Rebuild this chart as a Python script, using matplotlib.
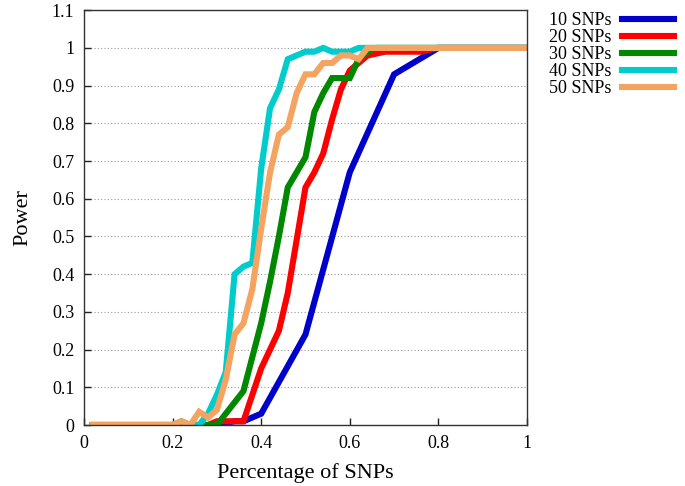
import matplotlib
matplotlib.use("Agg")
import matplotlib.pyplot as plt
from matplotlib.ticker import FormatStrFormatter

plt.rcParams["font.family"] = ["Liberation Serif", "DejaVu Serif"]

# vertices (fraction of SNPs, power)
snp10_x = [0.02, 0.30, 0.34, 0.36, 0.40, 0.50, 0.60, 0.70, 0.80, 1.00]
snp10_y = [0.00, 0.00, 0.01, 0.01, 0.03, 0.24, 0.67, 0.93, 1.00, 1.00]

snp20_x = [0.02, 0.28, 0.30, 0.34, 0.36, 0.38, 0.40, 0.42, 0.44, 0.46, 0.48, 0.50,
           0.52, 0.54, 0.56, 0.58, 0.60, 0.62, 0.64, 0.68, 0.76, 0.80, 1.00]
snp20_y = [0.00, 0.00, 0.01, 0.01, 0.01, 0.08, 0.15, 0.20, 0.25, 0.35, 0.49, 0.63,
           0.67, 0.72, 0.81, 0.89, 0.94, 0.96, 0.98, 0.99, 0.99, 1.00, 1.00]

snp30_x = [0.02, 0.28, 0.30, 0.32, 0.34, 0.36, 0.38, 0.40, 0.42, 0.44, 0.46, 0.48,
           0.50, 0.52, 0.54, 0.56, 0.58, 0.60, 0.62, 0.64, 0.66, 1.00]
snp30_y = [0.00, 0.00, 0.00, 0.03, 0.06, 0.09, 0.18, 0.27, 0.38, 0.50, 0.63, 0.67,
           0.71, 0.83, 0.88, 0.92, 0.92, 0.92, 0.97, 0.99, 1.00, 1.00]

snp40_x = [0.02, 0.20, 0.22, 0.24, 0.26, 0.28, 0.30, 0.32, 0.34, 0.36, 0.38, 0.40,
           0.42, 0.44, 0.46, 0.48, 0.50, 0.52, 0.54, 0.56, 0.58, 0.60, 0.62, 1.00]
snp40_y = [0.00, 0.00, 0.01, 0.00, 0.00, 0.03, 0.08, 0.14, 0.40, 0.42, 0.43, 0.68,
           0.84, 0.89, 0.97, 0.98, 0.99, 0.99, 1.00, 0.99, 0.99, 0.99, 1.00, 1.00]

snp50_x = [0.02, 0.20, 0.22, 0.24, 0.26, 0.28, 0.30, 0.32, 0.34, 0.36, 0.38, 0.40,
           0.42, 0.44, 0.46, 0.48, 0.50, 0.52, 0.54, 0.56, 0.58, 0.60, 0.62, 0.64, 1.00]
snp50_y = [0.00, 0.00, 0.01, 0.00, 0.035, 0.02, 0.04, 0.12, 0.24, 0.27, 0.36, 0.52,
           0.67, 0.77, 0.79, 0.88, 0.93, 0.93, 0.96, 0.96, 0.98, 0.98, 0.97, 1.00, 1.00]

series = [
    ("10 SNPs", snp10_x, snp10_y, "#0000cc"),
    ("20 SNPs", snp20_x, snp20_y, "#ff0000"),
    ("30 SNPs", snp30_x, snp30_y, "#008800"),
    ("40 SNPs", snp40_x, snp40_y, "#00cccc"),
    ("50 SNPs", snp50_x, snp50_y, "#f4a460"),
]

fig = plt.figure(figsize=(6.85, 4.86), dpi=100)
ax = fig.add_axes([0.1226, 0.1255, 0.6467, 0.8535])

for label, xs, ys, color in series:
    ax.plot(xs, ys, color=color, linewidth=4.4, label=label, solid_joinstyle="miter")

ax.set_xlim(0, 1)
ax.set_ylim(0, 1.1)
ax.set_xticks([0, 0.2, 0.4, 0.6, 0.8, 1.0])
ax.set_yticks([i / 10 for i in range(12)])
ax.xaxis.set_major_formatter(FormatStrFormatter("%g"))
ax.yaxis.set_major_formatter(FormatStrFormatter("%g"))
ax.tick_params(direction="in", length=5, width=1, labelsize=13, pad=7, color="#222222")
ax.grid(axis="y", linestyle=(0, (1, 2)), color="#999999", linewidth=0.8)
ax.set_axisbelow(True)
for s in ax.spines.values():
    s.set_color("#333333")
    s.set_linewidth(1.0)

ax.set_xlabel("Percentage of SNPs", fontsize=16, labelpad=8)
ax.set_ylabel("Power", fontsize=16, labelpad=14)

fig.legend(loc="upper right", bbox_to_anchor=(0.995, 0.99), frameon=False, markerfirst=False,
           fontsize=13, handlelength=2.9, labelspacing=0.0, handletextpad=0.6, borderaxespad=0)

fig.savefig("out.png", dpi=100)
